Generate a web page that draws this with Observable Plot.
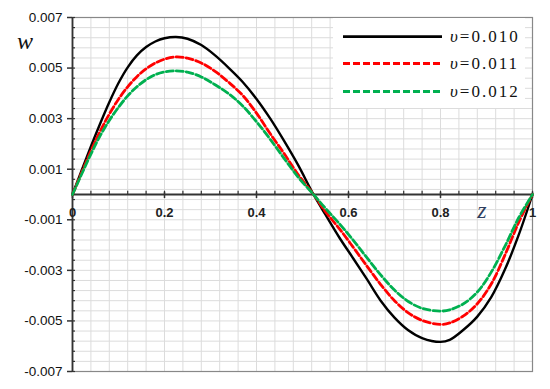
<!DOCTYPE html>
<html><head><meta charset="utf-8">
<script src="https://cdn.jsdelivr.net/npm/d3@7"></script>
<script src="https://cdn.jsdelivr.net/npm/@observablehq/plot@0.6"></script>
<style>body{margin:0;background:#fff} #chart{width:550px;height:389px}</style>
</head><body><div id="chart"></div>
<script>
// z positions along the beam
const z = [0, 0.04, 0.06, 0.08, 0.10, 0.12, 0.14, 0.16, 0.18, 0.20, 0.225, 0.25, 0.28, 0.31, 0.34, 0.37, 0.40, 0.43, 0.46, 0.49, 0.524, 0.55, 0.58, 0.61, 0.64, 0.67, 0.70, 0.73, 0.76, 0.80, 0.82, 0.85, 0.88, 0.91, 0.94, 0.97, 1];
// w for υ = 0.010
const w010 = [0, 0.0019, 0.0028, 0.00365, 0.00441, 0.00503, 0.0055, 0.00583, 0.00605, 0.00618, 0.00623, 0.00616, 0.00591, 0.0055, 0.005, 0.00445, 0.00378, 0.003, 0.00212, 0.00118, 0, -0.0008, -0.0017, -0.00252, -0.00335, -0.0042, -0.00487, -0.00537, -0.00568, -0.00583, -0.00575, -0.00535, -0.00483, -0.00407, -0.00297, -0.0016, 0];
// w for υ = 0.011
const w011 = [0, 0.00172, 0.0025, 0.00318, 0.00377, 0.00426, 0.00466, 0.00497, 0.0052, 0.00535, 0.00544, 0.00539, 0.0052, 0.00487, 0.00443, 0.00392, 0.00322, 0.0024, 0.00162, 0.0008, 0, -0.00068, -0.00135, -0.00208, -0.00283, -0.00356, -0.0042, -0.00468, -0.00498, -0.00514, -0.00508, -0.0048, -0.00432, -0.00355, -0.0024, -0.0011, 0];
// w for υ = 0.012
const w012 = [0, 0.0016, 0.00232, 0.00293, 0.00345, 0.0039, 0.00426, 0.00454, 0.00474, 0.00485, 0.00489, 0.00484, 0.00465, 0.00434, 0.00398, 0.0035, 0.00288, 0.00218, 0.00143, 0.0007, 0, -0.00055, -0.00115, -0.0018, -0.0025, -0.00318, -0.00378, -0.00423, -0.0045, -0.00461, -0.00456, -0.00432, -0.00386, -0.00308, -0.00205, -0.00092, 0];

const seriesNames = ["0.010", "0.011", "0.012"];
const seriesColors = ["#000000", "#ff0000", "#00b050"];
const seriesDash = [null, "7,3", "7,3"];
const seriesWidth = [2.4, 2.8, 2.8];
const xTicks = [0, 0.2, 0.4, 0.6, 0.8, 1];
const yTicks = [0.007, 0.005, 0.003, 0.001, -0.001, -0.003, -0.005, -0.007];
const xMinor = d3.range(0, 26).map(i => +(i * 0.04).toFixed(2));
const yMinor = d3.range(0, 36).map(i => +(0.007 - i * 0.0004).toFixed(4));

const seriesW = [w010, w011, w012];
const data = seriesW.map((arr, s) => z.map((zz, i) => ({z: zz, w: arr[i], s})));

const plot = Plot.plot({
  width: 550, height: 389,
  marginLeft: 72, marginRight: 18, marginTop: 17, marginBottom: 18,
  x: {domain: [0, 1], axis: null},
  y: {domain: [-0.007, 0.007], axis: null},
  style: {fontFamily: "'Liberation Sans', Arial, sans-serif", background: "#fff"},
  marks: [
    Plot.gridX(xMinor, {stroke: "#dcdcdc", strokeOpacity: 1}),
    Plot.gridY(yMinor, {stroke: "#dcdcdc", strokeOpacity: 1}),
    Plot.frame({stroke: "#888", strokeWidth: 1.2}),
    Plot.axisY(yTicks, {anchor: "left", label: null, tickSize: 5, tickPadding: 5, fontSize: 13.5, fill: "#111", stroke: "#333", strokeWidth: 1.5, tickFormat: d => d.toFixed(3)}),
    Plot.ruleY(yMinor, {x1: 0, x2: 0.0065, stroke: "#333", strokeWidth: 1.2}),
    Plot.ruleX([0], {stroke: "#333", strokeWidth: 1.8}),
    Plot.ruleY([0], {stroke: "#333", strokeWidth: 1.8}),
    Plot.ruleX(xMinor, {y1: 0, y2: 0.00013, stroke: "#333", strokeWidth: 1.2}),
    Plot.ruleX(xTicks, {y1: -0.00016, y2: 0.00009, stroke: "#333", strokeWidth: 1.5}),
    Plot.text(xTicks, {x: d => d, y: 0, dy: 18.5, text: d => String(d), fontSize: 13, fontWeight: "bold", fill: "#222"}),
    ...data.map((d, s) => Plot.line(d, {x: "z", y: "w", stroke: seriesColors[s], strokeWidth: seriesWidth[s], strokeDasharray: seriesDash[s], curve: "catmull-rom"}))
  ]
});
document.getElementById("chart").appendChild(plot);

// axis titles and legend
const svg = d3.select(plot);
svg.append("text").attr("x", 25).attr("y", 49).attr("text-anchor", "middle")
  .style("font-family", "'Liberation Serif', 'Times New Roman', serif").style("font-style", "italic")
  .style("font-size", "24px").attr("fill", "#111").text("w");
svg.append("text").attr("x", 482).attr("y", 218).attr("text-anchor", "middle")
  .style("font-family", "'Liberation Serif', 'Times New Roman', serif").style("font-style", "italic")
  .style("font-size", "24px").attr("fill", "#2f3f5f").text("z");

const lg = svg.append("g");
lg.append("rect").attr("x", 333).attr("y", 18).attr("width", 192).attr("height", 90).attr("fill", "#fff");
const rowsY = [36.7, 63.5, 91.5];
seriesNames.forEach((name, i) => {
  lg.append("line").attr("x1", 343).attr("x2", 442).attr("y1", rowsY[i]).attr("y2", rowsY[i])
    .attr("stroke", seriesColors[i]).attr("stroke-width", 2.8)
    .attr("stroke-dasharray", seriesDash[i] || null);
  const t = lg.append("text").attr("x", 450).attr("y", rowsY[i] + 5.5).attr("text-anchor", "start")
    .style("font-family", "'Liberation Serif', 'Times New Roman', serif")
    .style("font-size", "17px").style("letter-spacing", "2px").attr("fill", "#111");
  t.append("tspan").style("font-style", "italic").text("υ");
  t.append("tspan").text("=" + name);
});
</script>
</body></html>
